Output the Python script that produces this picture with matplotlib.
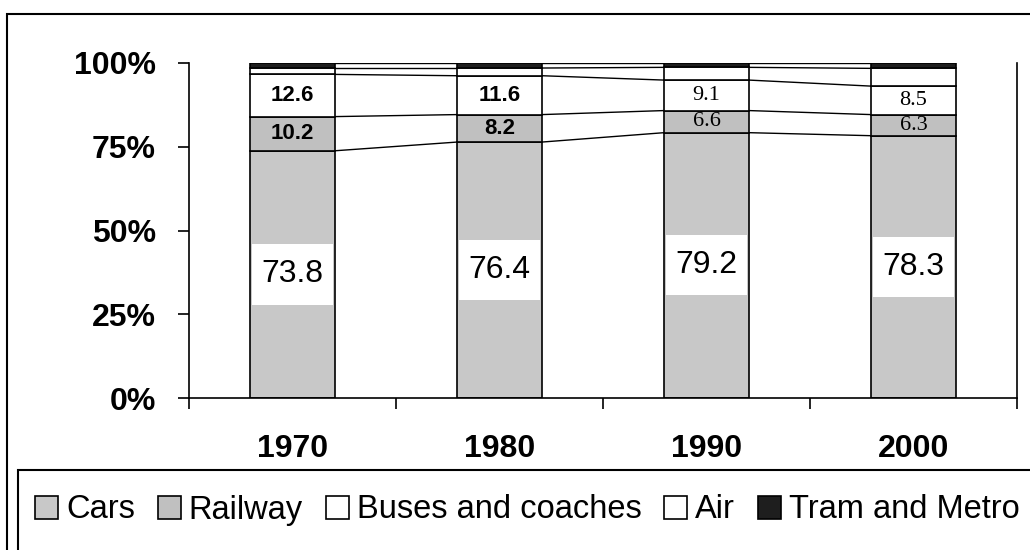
"""
Stacked 100% bars: passenger transport share by mode, 1970-2000.
"""

import numpy as np
import matplotlib
matplotlib.use("Agg")
import matplotlib.pyplot as plt
from matplotlib.patches import Rectangle, Patch

plt.rcParams.update({
    "font.family": "Liberation Sans",
})

# ---------------------------------------------------------------------------
# Data
# ---------------------------------------------------------------------------

years = ["1970", "1980", "1990", "2000"]
cars = [73.8, 76.4, 79.2, 78.3]
railway = [10.2, 8.2, 6.6, 6.3]
buses = [12.6, 11.6, 9.1, 8.5]
air = [1.9, 2.3, 3.8, 5.3]
tram = [1.5, 1.5, 1.3, 1.6]

series_names = ["Cars", "Railway", "Buses and coaches", "Air", "Tram and Metro"]
series_colors = ["#c8c8c8", "#c0c0c0", "white", "white", "#1e1e1e"]
yticks = [0, 25, 50, 75, 100]

# small labels: sans bold for the first two years, serif for the later ones
label_family = ["Liberation Sans", "Liberation Sans", "Liberation Serif", "Liberation Serif"]
label_weight = ["bold", "bold", "normal", "normal"]

# ---------------------------------------------------------------------------
# Plot
# ---------------------------------------------------------------------------

fig = plt.figure(figsize=(10.3, 5.5), dpi=100)
ax = fig.add_axes([189 / 1030, 1 - 398 / 550, (1017 - 189) / 1030, (398 - 63) / 550])

x = np.arange(len(years))
w = 0.41
data = [cars, railway, buses, air, tram]

bottom = np.zeros(len(years))
tops = []
for vals, name, col in zip(data, series_names, series_colors):
    vals = np.array(vals)
    ax.bar(x, vals, w, bottom=bottom, color=col, edgecolor="black",
           linewidth=1.2, label=name, zorder=2)
    bottom = bottom + vals
    tops.append(bottom.copy())

# series lines between neighbouring bars
for t in tops:
    for i in range(len(years) - 1):
        ax.plot([x[i] + w / 2, x[i + 1] - w / 2], [t[i], t[i + 1]],
                color="black", linewidth=1.0, zorder=1)

# cars labels in white boxes
box_h = 18
cars_mid = np.array(cars) / 2
ax.bar(x, box_h, w * 0.96, bottom=cars_mid - box_h / 2, color="white",
       linewidth=0, zorder=3)
for i, v in enumerate(cars):
    ax.text(x[i], cars_mid[i], f"{v}", ha="center", va="center",
            fontsize=23, zorder=4)

# railway and buses labels
rail_mid = np.array(cars) + np.array(railway) / 2
bus_mid = np.array(cars) + np.array(railway) + np.array(buses) / 2
for i in range(len(years)):
    for val, mid in ((railway[i], rail_mid[i]), (buses[i], bus_mid[i])):
        ax.text(x[i], mid, f"{val}", ha="center", va="center", fontsize=16,
                family=label_family[i], weight=label_weight[i], zorder=4)

ax.set_xlim(-0.5, len(years) - 0.5)
ax.set_ylim(0, 100)

ax.set_yticks(yticks)
ax.set_yticklabels([f"{v}%" for v in yticks], fontsize=23, weight="bold")
ax.tick_params(axis="y", direction="out", length=8, width=1.2, pad=16)

ax.set_xticks(np.arange(len(years) + 1) - 0.5)
ax.set_xticklabels([])
ax.set_xticks(x, minor=True)
ax.set_xticklabels(years, minor=True, fontsize=23, weight="bold")
ax.tick_params(axis="x", which="major", direction="out", length=8, width=1.2)
ax.tick_params(axis="x", which="minor", length=0, pad=26)

ax.spines["top"].set_visible(False)
for s in ("left", "bottom", "right"):
    ax.spines[s].set_linewidth(1.2)

# outer frame and legend box
fig.patches.append(Rectangle((7 / 1030, -0.2), 1.2, 0.2 + (550 - 14) / 550,
                             transform=fig.transFigure, fill=False,
                             edgecolor="black", linewidth=1.5))
fig.patches.append(Rectangle((18 / 1030, -0.2), 1.2, 0.2 + (550 - 470) / 550,
                             transform=fig.transFigure, fill=False,
                             edgecolor="black", linewidth=1.5))

handles = [Patch(facecolor=c, edgecolor="black", linewidth=1.2)
           for c in series_colors]
fig.legend(handles, series_names, loc="center left",
           bbox_to_anchor=(35 / 1030, 1 - 510 / 550), ncol=5, frameon=False,
           fontsize=23.5, handlelength=0.7, handleheight=0.7,
           handletextpad=0.25, columnspacing=0.7, borderpad=0,
           borderaxespad=0)

fig.savefig("out.png", dpi=100)
